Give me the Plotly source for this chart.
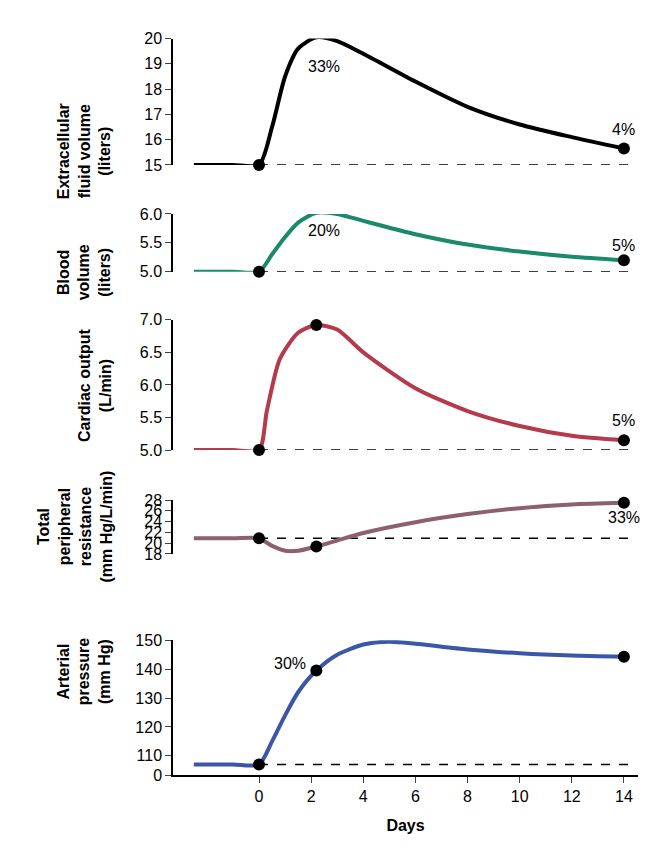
import plotly.graph_objects as go

# curve samples (days, value)
days_ecf = [-2.5, -1, 0, 0.5, 1, 1.5, 2.2, 3, 4, 6, 8, 10, 12, 14]
ecf = [15, 15, 15, 16.5, 18.5, 19.6, 20.05, 19.9, 19.4, 18.3, 17.3, 16.6, 16.1, 15.65]
days_bv = [-2.5, -1, 0, 0.5, 1, 1.5, 2.2, 3, 4, 6, 8, 10, 12, 14]
bv = [5, 5, 5, 5.3, 5.6, 5.85, 6.02, 6.0, 5.88, 5.65, 5.47, 5.35, 5.26, 5.2]
days_co = [-2.5, -1, 0, 0.3, 0.8, 1.5, 2.2, 3, 4, 6, 8, 10, 12, 14]
co = [5, 5, 5, 5.6, 6.4, 6.8, 6.92, 6.85, 6.5, 5.95, 5.6, 5.37, 5.22, 5.15]
days_tpr = [-2.5, -1, 0, 0.5, 1, 1.5, 2.2, 3, 4, 6, 8, 10, 12, 14]
tpr = [20.9, 20.9, 20.9, 19.5, 18.6, 18.6, 19.4, 20.5, 21.9, 23.9, 25.4, 26.5, 27.2, 27.5]
days_ap = [-2.5, -1, 0, 0.5, 1, 1.5, 2.2, 3, 4, 5, 6, 8, 10, 12, 14]
ap = [107, 107, 107, 115, 124, 132, 139.5, 145, 148.5, 149.5, 148.8, 146.8, 145.5, 144.7, 144.3]

marker_days = [0, 2.2, 14]
baselines = [15, 5, 5, 20.9, 107]
pct_labels = [["33%", "4%"], ["20%", "5%"], ["40%", "5%"], ["\u221213%", "33%"], ["30%", "40%"]]
titles = ["Extracellular<br>fluid volume<br>(liters)", "Blood<br>volume<br>(liters)",
          "Cardiac output<br>(L/min)", "Total<br>peripheral<br>resistance<br>(mm Hg/L/min)",
          "Arterial<br>pressure<br>(mm Hg)"]
colors = ["black", "#1b8a6b", "#b53a4c", "#8c6070", "#3b56a6"]

H, W = 848, 648
# pixel extents (top, bottom) of each panel
panels_px = [(23, 152), (202, 261), (310, 443), (494, 549), (637, 775)]
ranges = [[15, 20], [5, 6], [5, 7], [18, 28], [103.2, 150]]
tickvals = [[15, 16, 17, 18, 19, 20], [5, 5.5, 6], [5, 5.5, 6, 6.5, 7],
            [18, 20, 22, 24, 26, 28], [103.2, 110, 120, 130, 140, 150]]
ticktext = [None, ["5.0", "5.5", "6.0"], ["5.0", "5.5", "6.0", "6.5", "7.0"], None,
            ["0", "110", "120", "130", "140", "150"]]

fig = go.Figure()
series = [(days_ecf, ecf), (days_bv, bv), (days_co, co), (days_tpr, tpr), (days_ap, ap)]
layout = {}

for i, (xs, ys) in enumerate(series):
    r = i + 1
    xn = "x" if i == 0 else f"x{r}"
    yn = "y" if i == 0 else f"y{r}"
    fig.add_trace(go.Scatter(x=[0, 14.5], y=[baselines[i]] * 2, mode="lines", xaxis=xn, yaxis=yn,
                             line=dict(color="black", width=1.5, dash="dash")))
    fig.add_trace(go.Scatter(x=xs, y=ys, mode="lines", xaxis=xn, yaxis=yn, cliponaxis=False,
                             line=dict(color=colors[i], width=4, shape="spline", smoothing=0.7)))
    my = [ys[xs.index(d)] for d in marker_days]
    fig.add_trace(go.Scatter(x=marker_days, y=my, mode="markers", xaxis=xn, yaxis=yn, cliponaxis=False,
                             marker=dict(color="black", size=12)))
    top, bot = panels_px[i]
    layout["yaxis" if i == 0 else f"yaxis{r}"] = dict(
        domain=[1 - bot / H, 1 - top / H], range=ranges[i], tickvals=tickvals[i],
        ticktext=ticktext[i], showline=True, linecolor="black", linewidth=1.5, anchor=xn,
        ticks="outside", ticklen=6, showgrid=False, zeroline=False)
    layout["xaxis" if i == 0 else f"xaxis{r}"] = dict(
        domain=[165 / W, 630 / W], range=[-3.3, 14.54], showgrid=False, zeroline=False, anchor=yn,
        showline=(r == 5), linecolor="black", linewidth=1.5, ticks="outside" if r == 5 else "",
        ticklen=6, tickvals=list(range(0, 15, 2)), showticklabels=(r == 5))
    fig.add_annotation(text="<b>" + titles[i] + "</b>", xref="paper", yref="paper",
                       x=108 / W, xanchor="right", y=1 - (top + bot) / 2 / H, textangle=-90,
                       showarrow=False, font=dict(size=16))

# percent labels
ann = [(2.5, 18.9, 0), (14, 16.4, 0), (2.5, 5.72, 1), (14, 5.45, 1), (3.5, 7.05, 2), (14, 5.45, 2),
       (3.3, 17.2, 3), (14, 24.8, 3), (1.2, 142, 4), (14, 150.5, 4)]
for k, (x, y, i) in enumerate(ann):
    fig.add_annotation(text=pct_labels[i][k % 2], x=x, y=y, xref=f"x{i + 1}" if i else "x",
                       yref=f"y{i + 1}" if i else "y", showarrow=False, font=dict(size=16))

layout["xaxis5"]["title"] = dict(text="<b>Days</b>", font=dict(size=16))
fig.update_layout(**layout)
fig.update_layout(width=W, height=H, margin=dict(l=0, r=0, t=0, b=0), showlegend=False,
                  plot_bgcolor="white", paper_bgcolor="white",
                  font=dict(family="Liberation Sans, Arial", size=16, color="black"))
fig.write_html("out.html")
